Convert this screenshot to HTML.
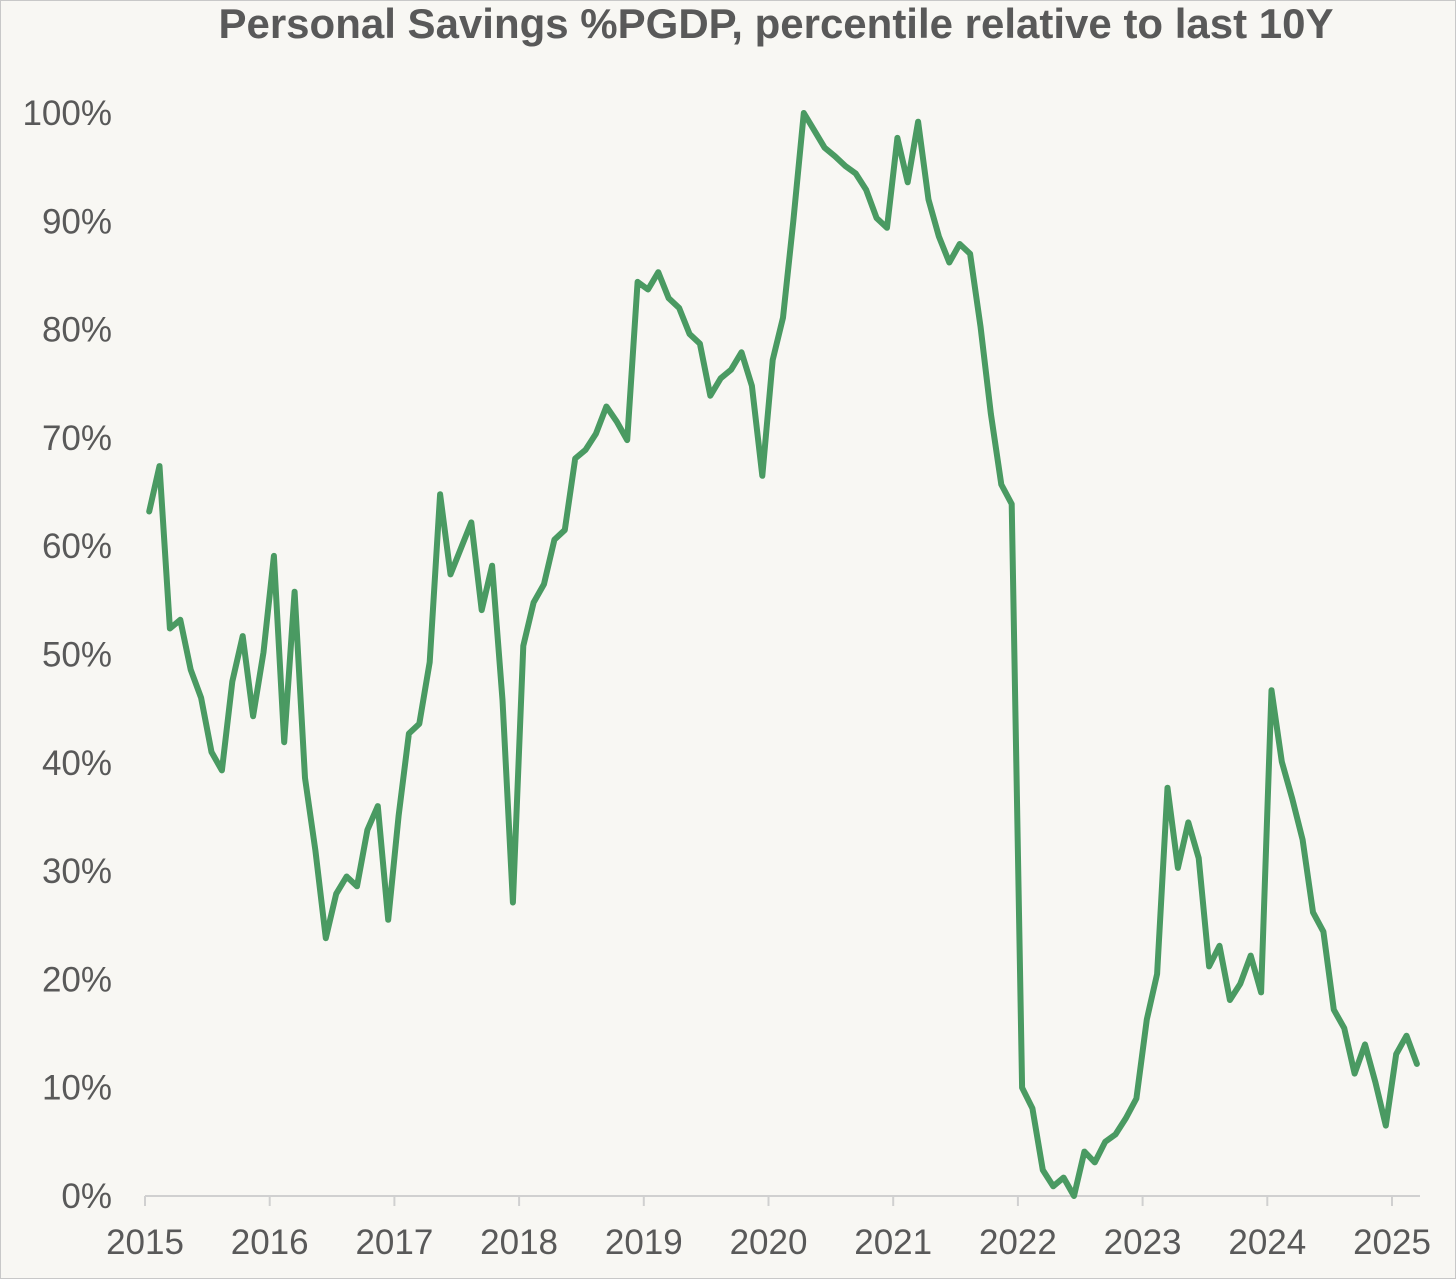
<!DOCTYPE html>
<html><head><meta charset="utf-8"><style>
html,body{margin:0;padding:0;background:#f8f7f3;}
svg{display:block;font-family:"Liberation Sans",Arial,sans-serif;}
</style></head><body>
<svg id="chart" width="1456" height="1279">
<rect x="0.5" y="0.5" width="1455" height="1278" fill="#f8f7f3" stroke="#c8c8c8"/>
<text x="776" y="38" text-anchor="middle" font-size="42" font-weight="bold" fill="#595959">Personal Savings %PGDP, percentile relative to last 10Y</text>
<g id="yaxis"></g>
<g id="xaxis"></g>
<g id="series"></g>
</svg>
<script>
const startYear = 2015;
const yTicks = [0,10,20,30,40,50,60,70,80,90,100];
const xTickYears = [2015,2016,2017,2018,2019,2020,2021,2022,2023,2024,2025];
const values = [
63.2,67.4,52.4,53.2,48.6,46,41,39.3,47.5,51.7,44.3,50.2,
59.1,41.9,55.8,38.6,31.9,23.8,27.9,29.5,28.6,33.8,36,25.5,
35.1,42.7,43.6,49.3,64.8,57.4,59.8,62.2,54.1,58.2,45.8,27.1,
50.8,54.8,56.5,60.6,61.5,68.1,68.9,70.4,72.9,71.5,69.8,84.4,
83.7,85.3,82.9,82,79.6,78.7,73.9,75.5,76.3,77.9,74.8,66.5,
77.2,81.1,90.1,100,98.4,96.8,96,95.1,94.4,92.9,90.3,89.4,
97.7,93.6,99.2,92,88.6,86.2,87.9,87,80.3,72.2,65.7,63.9,
10,8.1,2.4,0.9,1.7,0,4.1,3.1,5,5.7,7.2,9,
16.3,20.5,37.7,30.3,34.5,31.2,21.2,23.1,18.1,19.6,22.2,18.8,
46.7,40.1,36.7,32.9,26.2,24.4,17.2,15.5,11.3,14,10.5,6.5,
13.1,14.8,12.2
];
const NS="http://www.w3.org/2000/svg";
const x0=145, x1=1392, yBase=1196, yTop=113;
function xScale(m){return x0+(m+0.4)*(x1-x0)/120;}
function xYear(yr){return x0+(yr-startYear)*(x1-x0)/10;}
function yScale(v){return yBase-(v/100)*(yBase-yTop);}
function mk(tag,attrs,parent){const e=document.createElementNS(NS,tag);for(const k in attrs)e.setAttribute(k,attrs[k]);parent.appendChild(e);return e;}
const ya=document.getElementById('yaxis'), xa=document.getElementById('xaxis'), sg=document.getElementById('series');
yTicks.forEach(t=>{
  const el=mk('text',{x:112,y:yScale(t)+12,'text-anchor':'end','font-size':35,fill:'#595959'},ya);
  el.textContent=t+'%';
  
  
});
const axl=mk('line',{x1:x0,x2:1420,y1:yBase,y2:yBase,stroke:'#d0d0d0','stroke-width':2},xa);


xTickYears.forEach(yr=>{
  const x=xYear(yr);
  const tk=mk('line',{x1:x,x2:x,y1:yBase,y2:yBase+10,stroke:'#d0d0d0','stroke-width':2},xa);
  
  
  const el=mk('text',{x:x,y:1254,'text-anchor':'middle','font-size':35,fill:'#595959'},xa);
  el.textContent=yr;
  
  
});
const d=values.map((v,i)=>(i?'L':'M')+xScale(i).toFixed(1)+','+yScale(v).toFixed(1)).join(' ');
const p=mk('path',{d:d,fill:'none',stroke:'#4a9a62','stroke-width':6,'stroke-linejoin':'round','stroke-linecap':'round'},sg);


</script>
</body></html>
